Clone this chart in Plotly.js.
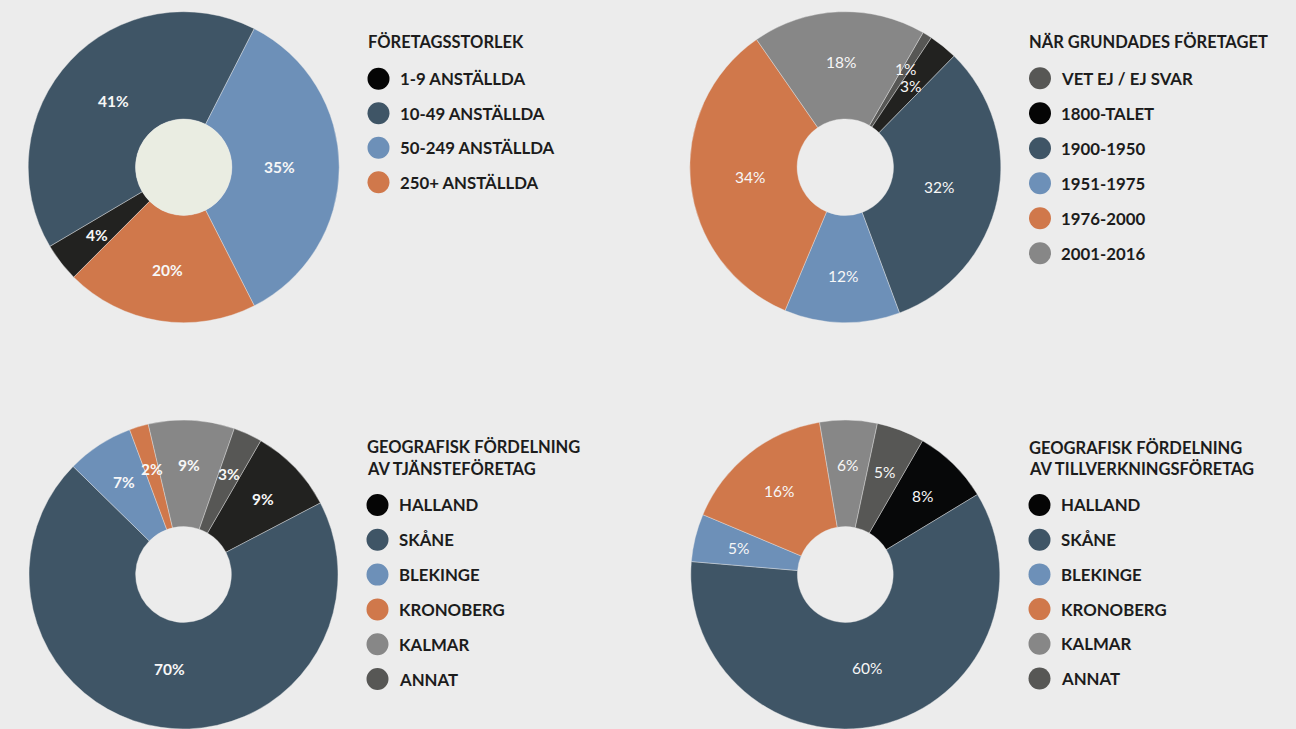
<!DOCTYPE html>
<html>
<head>
<meta charset="utf-8">
<script src="https://cdn.plot.ly/plotly-3.0.1.min.js"></script>
<style>
  html, body { margin: 0; padding: 0; background: #ececec; }
  #chart { width: 1296px; height: 729px; }
</style>
</head>
<body>
<div id="chart"></div>
<script>
// ---------- DATA ----------
const c1Title = ['FÖRETAGSSTORLEK'];
const c1Labels = ['1-9 ANSTÄLLDA', '10-49 ANSTÄLLDA', '50-249 ANSTÄLLDA', '250+ ANSTÄLLDA'];
const c1Values = [4, 41, 35, 20];

const c2Title = ['NÄR GRUNDADES FÖRETAGET'];
const c2Labels = ['VET EJ / EJ SVAR', '1800-TALET', '1900-1950', '1951-1975', '1976-2000', '2001-2016'];
const c2Values = [1, 3, 32, 12, 34, 18];

const c3Title = ['GEOGRAFISK FÖRDELNING', 'AV TJÄNSTEFÖRETAG'];
const c4Title = ['GEOGRAFISK FÖRDELNING', 'AV TILLVERKNINGSFÖRETAG'];
const regionLabels = ['HALLAND', 'SKÅNE', 'BLEKINGE', 'KRONOBERG', 'KALMAR', 'ANNAT'];
const c3Values = [9, 70, 7, 2, 9, 3];
const c4Values = [8, 60, 5, 16, 6, 5];

// ---------- STYLE ----------
const W = 1296, H = 729;
const BG = '#ececec';
const FONT = 'Lato, "Noto Sans", sans-serif';
const SLATE = '#3f5566', BLUE = '#6d90b8', ORANGE = '#d0784b', GRAY = '#878787', DGRAY = '#575755', BLACK = '#222220';
const c1Colors = [BLACK, SLATE, BLUE, ORANGE];
const c2Colors = [DGRAY, BLACK, SLATE, BLUE, ORANGE, GRAY];
const c3Colors = [BLACK, SLATE, BLUE, ORANGE, GRAY, DGRAY];
const c4Colors = ['#070809', SLATE, BLUE, ORANGE, GRAY, DGRAY];

const R = 155.5, HOLE = 0.31;
function dom(cx, cy, r) {
  return {
    x: [(cx - r) / W, (cx + r) / W],
    y: [Math.max(0, (H - cy - r) / H), Math.min(1, (H - cy + r) / H)]
  };
}

const charts = [
  { title: c1Title, labels: c1Labels, values: c1Values, colors: c1Colors, cx: 183.7, cy: 167.2, rot: 225, weight: 700,
    legX: 368, legY0: 78.8, step: 34.5, titleY: [42] },
  { title: c2Title, labels: c2Labels, values: c2Values, colors: c2Colors, cx: 845.3, cy: 167.2, rot: 30, weight: 400,
    legX: 1029.5, legY0: 78.3, step: 35, titleY: [42] },
  { title: c3Title, labels: regionLabels, values: c3Values, colors: c3Colors, cx: 183.5, cy: 574.5, rot: 30, weight: 700,
    legX: 367, legY0: 505, step: 34.8, titleY: [447, 469] },
  { title: c4Title, labels: regionLabels, values: c4Values, colors: c4Colors, cx: 845.3, cy: 574.5, rot: 30, weight: 400,
    legX: 1029, legY0: 505, step: 34.7, titleY: [448, 469] }
];

const traces = [];
const shapes = [];
const annotations = [];

charts.forEach((c, ci) => {
  const r = (c.cy + R > H) ? (H - c.cy) : R;
  traces.push({
    type: 'pie',
    labels: c.labels,
    values: c.values,
    sort: false,
    direction: 'clockwise',
    rotation: c.rot,
    hole: HOLE,
    domain: dom(c.cx, c.cy, r),
    marker: { colors: c.colors, line: { color: BG, width: 0.4 } },
    textinfo: 'none',
    hoverinfo: 'skip',
    showlegend: false
  });

  // percentage labels, placed on each slice's mid-angle
  const total = c.values.reduce((a, b) => a + b, 0);
  const rIn = R * HOLE;
  let cum = 0;
  const lbl = c.values.map((v) => {
    const theta = v / total * 2 * Math.PI;
    const mid = (c.rot * Math.PI / 180) + (cum + v / 2) / total * 2 * Math.PI;
    cum += v;
    const half = theta / 2;
    const sinc = Math.sin(half) / half;
    const cen = (2 / 3) * (Math.pow(R, 3) - Math.pow(rIn, 3)) / (R * R - rIn * rIn) * sinc;
    return { v: v, mid: mid, rl: Math.min(110, Math.max(96, cen)) };
  });
  const pos = (l) => [c.cx + l.rl * Math.sin(l.mid), c.cy - l.rl * Math.cos(l.mid)];
  // separate neighbouring labels of thin slices that would collide
  for (let i = 0; i + 1 < lbl.length; i++) {
    const a = pos(lbl[i]), b = pos(lbl[i + 1]);
    if (Math.abs(a[0] - b[0]) < 26 && Math.abs(a[1] - b[1]) < 18) {
      lbl[i].rl += 5;
      lbl[i + 1].rl -= 6;
    }
  }
  lbl.forEach((l) => {
    const p = pos(l);
    annotations.push({
      xref: 'paper', yref: 'paper', x: p[0] / W, y: (H - p[1]) / H,
      xanchor: 'center', yanchor: 'middle', showarrow: false,
      text: l.v + '%',
      font: { family: FONT, size: 15.5, color: '#f7f7f7', weight: c.weight }
    });
  });

  // light filled centre for the first chart
  if (ci === 0) {
    shapes.push({
      type: 'circle', xref: 'paper', yref: 'paper',
      xsizemode: 'pixel', ysizemode: 'pixel',
      xanchor: c.cx / W, yanchor: (H - c.cy) / H,
      x0: -48, x1: 48, y0: -48, y1: 48,
      fillcolor: '#eaede2', line: { width: 0 }
    });
  }

  // legend title
  c.title.forEach((t, ti) => {
    annotations.push({
      xref: 'paper', yref: 'paper', x: (c.legX - 2.5) / W, y: (H - c.titleY[ti]) / H,
      xanchor: 'left', yanchor: 'middle', showarrow: false,
      text: t, font: { family: FONT, size: 16.5, color: '#1c1c1c', weight: 700 }
    });
  });

  // legend items
  c.labels.forEach((lab, li) => {
    const y = c.legY0 + li * c.step;
    const px = c.legX + 10.5;
    const col = c.colors[li];
    shapes.push({
      type: 'circle', xref: 'paper', yref: 'paper',
      xsizemode: 'pixel', ysizemode: 'pixel',
      xanchor: px / W, yanchor: (H - y) / H,
      x0: -11, x1: 11, y0: -11, y1: 11,
      fillcolor: (col === BLACK || col === '#070809') ? '#050505' : col,
      line: { width: 0 }
    });
    annotations.push({
      xref: 'paper', yref: 'paper', x: (c.legX + 29.5) / W, y: (H - y) / H,
      xanchor: 'left', yanchor: 'middle', showarrow: false,
      text: lab, font: { family: FONT, size: 16.8, color: '#1c1c1c', weight: 700 }
    });
  });
});

const layout = {
  width: W, height: H,
  margin: { l: 0, r: 0, t: 0, b: 0, pad: 0 },
  paper_bgcolor: BG, plot_bgcolor: BG,
  showlegend: false,
  shapes: shapes,
  annotations: annotations
};

Plotly.newPlot('chart', traces, layout, { displayModeBar: false, staticPlot: true });
</script>
</body>
</html>
